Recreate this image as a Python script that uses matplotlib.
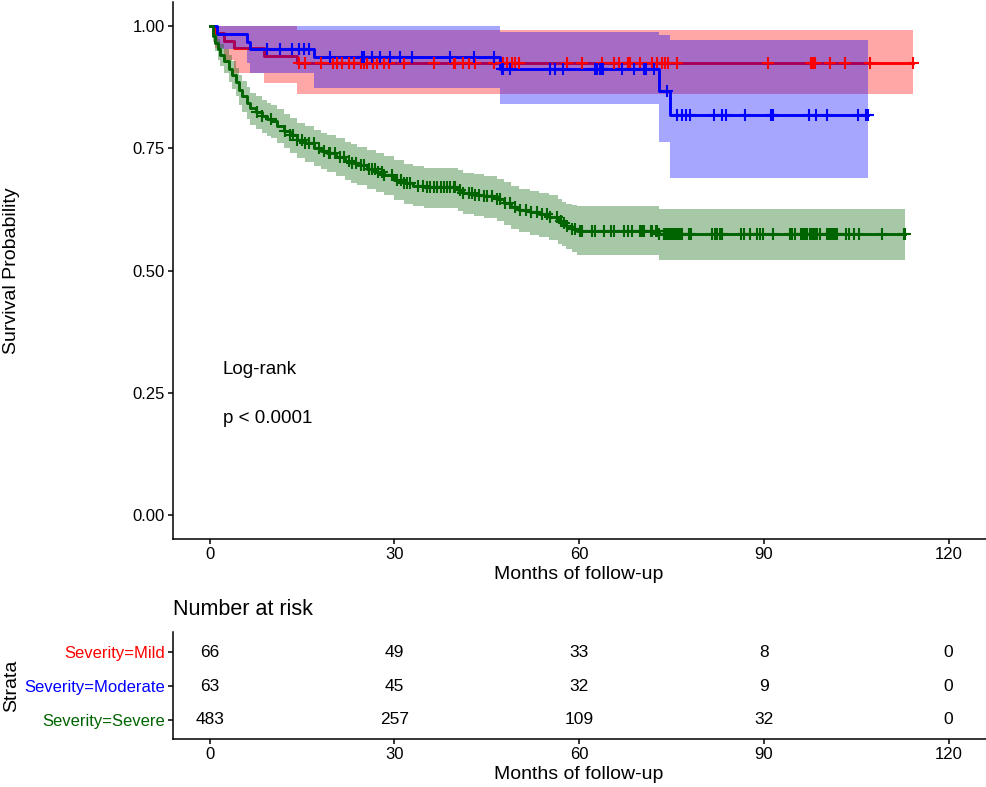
import numpy as np
import matplotlib.pyplot as plt

plt.rcParams['font.family'] = ['Liberation Sans', 'DejaVu Sans']

# ---- data ----
strata = ['Severity=Mild', 'Severity=Moderate', 'Severity=Severe']
colores = ['#FF0000', '#0000FF', '#006400']

# Mild
mild_t = [0, 0.8, 2.3, 3.9, 8.8, 14.2]
mild_s = [1.0, 0.985, 0.970, 0.955, 0.939, 0.924]
mild_hi = [1.0, 1.0, 1.0, 1.0, 1.0, 0.991]
mild_lo = [1.0, 0.956, 0.930, 0.903, 0.883, 0.862]
mild_fin = 114.2
mild_cens = [14.5, 15.5, 18.0, 20.1, 20.7, 21.5, 22.6, 23.4, 24.5, 25.0, 25.6, 26.6,
             27.2, 28.3, 29.1, 31.5, 36.4, 39.6, 39.9, 41.2, 42.1, 43.1, 46.1, 47.7,
             48.3, 49.1, 49.6, 50.2, 58.0, 60.5, 63.7, 65.6, 66.4, 68.0, 68.3, 69.9,
             71.8, 72.7, 73.5, 74.0, 74.5, 75.9, 90.7, 97.7, 98.0, 98.3, 100.8, 103.2,
             107.3, 114.2]

# Moderate
mod_t = [0, 1.2, 6.1, 6.6, 16.9, 47.2, 72.9, 74.8]
mod_s = [1.0, 0.984, 0.968, 0.952, 0.936, 0.912, 0.867, 0.818]
mod_hi = [1.0, 1.0, 1.0, 1.0, 1.0, 0.988, 0.982, 0.971]
mod_lo = [1.0, 0.953, 0.925, 0.903, 0.874, 0.840, 0.762, 0.690]
mod_fin = 106.9
mod_cens = [9.3, 11.5, 13.4, 14.5, 15.3, 16.2, 19.6, 24.7, 25.0, 26.4, 27.7, 29.3,
            30.9, 32.9, 39.1, 43.0, 46.1, 47.5, 47.7, 48.8, 55.2, 56.1, 57.4, 62.6,
            62.9, 63.4, 63.7, 63.9, 66.9, 68.9, 70.5, 70.8, 72.1, 74.3, 75.9, 76.7,
            77.3, 78.0, 81.9, 83.2, 83.8, 87.0, 91.1, 91.4, 97.4, 98.5, 100.3, 105.3,
            106.6, 106.9]

# Severe
sev_t = [0, 0.5, 0.9, 1.3, 1.7, 2.3, 3.1, 3.6, 4.2, 4.8, 5.3, 6.0, 6.6, 7.5, 8.5,
         9.3, 10.0, 11.0, 12.0, 13.0, 14.2, 15.5, 17.0, 18.0, 19.1, 20.5, 22.0, 23.0,
         24.0, 25.5, 27.0, 28.3, 30.0, 31.5, 33.0, 34.8, 40.3, 41.2, 43.0, 44.5, 46.6,
         47.8, 49.0, 50.2, 52.0, 53.5, 55.1, 56.5, 57.2, 57.9, 58.8, 59.6, 72.9]
sev_s = [1.000, 0.980, 0.965, 0.952, 0.941, 0.928, 0.913, 0.900, 0.886, 0.870, 0.857,
         0.843, 0.832, 0.824, 0.816, 0.810, 0.805, 0.796, 0.786, 0.777, 0.767, 0.760,
         0.751, 0.745, 0.740, 0.733, 0.725, 0.720, 0.715, 0.708, 0.701, 0.695, 0.686,
         0.678, 0.673, 0.670, 0.664, 0.658, 0.655, 0.652, 0.646, 0.638, 0.630, 0.624,
         0.619, 0.615, 0.610, 0.602, 0.597, 0.592, 0.585, 0.580, 0.574]
sev_hi = [1.000, 0.993, 0.983, 0.973, 0.964, 0.953, 0.940, 0.928, 0.915, 0.900, 0.888,
          0.875, 0.864, 0.857, 0.849, 0.843, 0.838, 0.830, 0.821, 0.812, 0.802, 0.796,
          0.787, 0.781, 0.777, 0.770, 0.763, 0.758, 0.753, 0.747, 0.740, 0.734, 0.726,
          0.718, 0.713, 0.710, 0.705, 0.700, 0.697, 0.694, 0.688, 0.681, 0.673, 0.667,
          0.662, 0.658, 0.654, 0.646, 0.641, 0.636, 0.633, 0.631, 0.625]
sev_lo = [1.000, 0.967, 0.948, 0.931, 0.918, 0.903, 0.886, 0.871, 0.856, 0.839, 0.825,
          0.810, 0.798, 0.789, 0.781, 0.775, 0.770, 0.760, 0.750, 0.740, 0.730, 0.722,
          0.713, 0.707, 0.701, 0.694, 0.686, 0.680, 0.675, 0.667, 0.660, 0.654, 0.645,
          0.637, 0.632, 0.628, 0.621, 0.615, 0.611, 0.607, 0.601, 0.593, 0.584, 0.578,
          0.573, 0.569, 0.563, 0.555, 0.550, 0.544, 0.537, 0.531, 0.521]
sev_fin = 112.9
sev_cens = [7.7, 8.5, 9.9, 12.3, 13.1, 13.6, 14.2, 15.0, 15.5, 16.1, 16.9, 17.7, 18.5,
            19.3, 19.6, 20.4, 21.2, 21.8, 22.6, 23.1, 23.7, 24.5, 25.0, 25.8, 26.4,
            26.9, 27.4, 28.0, 28.3, 29.6, 30.4, 31.0, 31.5, 32.0, 32.6, 33.9, 34.7,
            35.3, 35.8, 36.4, 36.9, 37.5, 38.0, 38.5, 39.1, 39.6, 39.9, 40.7, 41.2,
            42.1, 42.6, 43.1, 43.7, 44.5, 45.0, 45.8, 46.7, 47.2, 48.0, 48.8, 49.6,
            50.4, 51.3, 52.1, 53.2, 54.0, 54.8, 55.3, 56.4, 57.0, 57.5, 58.0, 58.8,
            59.4, 60.2, 60.5, 62.1, 62.6, 64.0, 65.1, 65.6, 67.2, 68.0, 68.6, 69.9,
            70.2, 70.5, 71.6, 71.9, 72.4, 72.7, 72.9, 73.8, 74.0, 74.3, 74.6, 74.8,
            75.1, 75.3, 75.6, 75.9, 76.2, 76.4, 76.7, 77.8, 78.1, 81.6, 82.1, 82.4,
            82.9, 83.2, 86.2, 86.7, 87.8, 88.9, 89.3, 89.9, 91.5, 94.3, 94.6, 95.0,
            96.0, 96.4, 96.7, 97.0, 97.5, 97.7, 97.9, 98.1, 98.3, 98.7, 99.1, 100.3,
            100.5, 100.9, 101.2, 101.5, 101.7, 101.9, 103.4, 103.8, 104.7, 105.5,
            109.2, 112.7, 112.9]

riesgo_t = [0, 30, 60, 90, 120]
riesgo_mild = [66, 49, 33, 8, 0]
riesgo_mod = [63, 45, 32, 9, 0]
riesgo_sev = [483, 257, 109, 32, 0]

curvas = [
    (mild_t, mild_s, mild_lo, mild_hi, mild_fin, mild_cens),
    (mod_t, mod_s, mod_lo, mod_hi, mod_fin, mod_cens),
    (sev_t, sev_s, sev_lo, sev_hi, sev_fin, sev_cens),
]

fig = plt.figure(figsize=(9.87, 7.87), dpi=100)
ax = fig.add_axes([0.175, 0.3145, 0.8236, 0.6835])
ax2 = fig.add_axes([0.175, 0.0605, 0.8236, 0.1365])

z = 1
for (t, s, lo, hi, fin, cens), col in zip(curvas, colores):
    tt = list(t) + [fin]
    ax.fill_between(tt, list(lo) + [lo[-1]], list(hi) + [hi[-1]], step='post',
                    color=col, alpha=0.35, linewidth=0, zorder=z)
    ax.step(tt, list(s) + [s[-1]], where='post', color=col, lw=2.1, zorder=z + 1)
    z += 2

for (t, s, lo, hi, fin, cens), col in zip(curvas, colores):
    idx = np.searchsorted(t, cens, side='right') - 1
    ax.plot(cens, np.array(s)[idx], linestyle='none', marker='+', color=col,
            markersize=8, markeredgewidth=1.5, zorder=10)

ax.text(2.1, 0.297, 'Log-rank', fontsize=13.5, va='center', ha='left')
ax.text(2.1, 0.198, 'p < 0.0001', fontsize=13.5, va='center', ha='left')

ax.set_xlim(-6, 126)
ax.set_ylim(-0.05, 1.05)
ax.set_xticks(riesgo_t)
ax.set_yticks([0, 0.25, 0.5, 0.75, 1.0])
ax.set_yticklabels(['0.00', '0.25', '0.50', '0.75', '1.00'])
ax.set_xlabel('Months of follow-up', fontsize=14, labelpad=3)
ax.set_ylabel('Survival Probability', fontsize=14)
ax.yaxis.set_label_coords(-0.188, 0.5)

# tabla de riesgo
filas = [riesgo_mild, riesgo_mod, riesgo_sev]
ypos = [3, 2, 1]
for fila, y in zip(filas, ypos):
    for x, n in zip(riesgo_t, fila):
        ax2.text(x, y, str(n), ha='center', va='center', fontsize=12.5)
ax2.set_xlim(-6, 126)
ax2.set_ylim(0.42, 3.6)
ax2.set_xticks(riesgo_t)
ax2.set_yticks(ypos)
ax2.set_yticklabels(strata)
for lab, col in zip(ax2.get_yticklabels(), colores):
    lab.set_color(col)
ax2.set_xlabel('Months of follow-up', fontsize=14, labelpad=3)
ax2.set_ylabel('Strata', fontsize=14)
ax2.yaxis.set_label_coords(-0.188, 0.5)
ax2.set_title('Number at risk', loc='left', fontsize=15.5, pad=12)

for a in (ax, ax2):
    for lado in ('top', 'right'):
        a.spines[lado].set_visible(False)
    a.spines['left'].set_linewidth(1.1)
    a.spines['bottom'].set_linewidth(1.1)
    a.tick_params(labelsize=12, length=3.5, width=1.1, color='black', pad=2)

fig.savefig('out.png', dpi=100)
